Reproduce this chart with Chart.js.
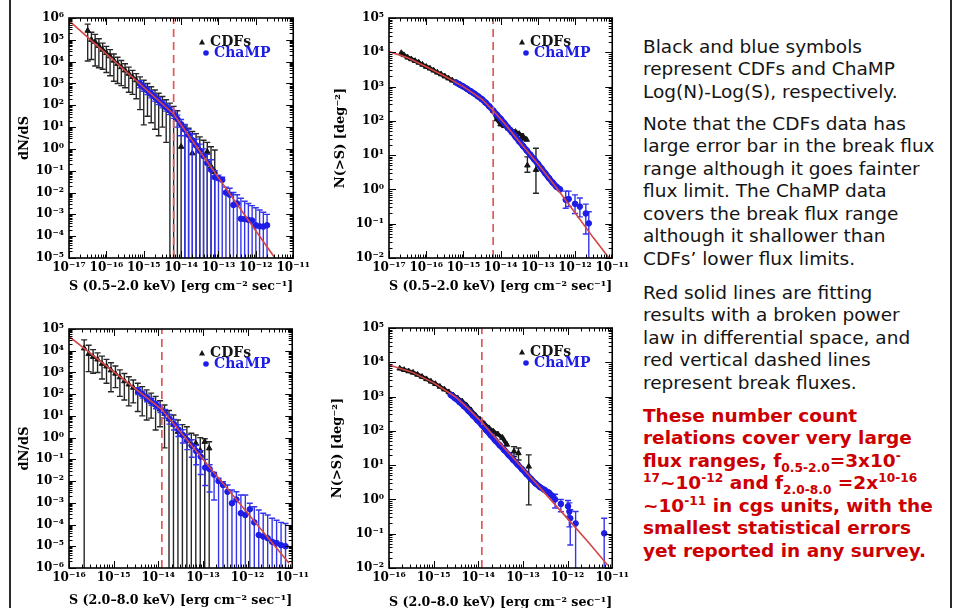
<!DOCTYPE html>
<html>
<head>
<meta charset="utf-8">
<script src="https://cdn.jsdelivr.net/npm/chart.js@4.4.1/dist/chart.umd.min.js"></script>
<style>
  body { margin: 0; width: 966px; height: 608px; overflow: hidden; position: relative; background: #fff; }
  .rule { position: absolute; top: 0; height: 608px; width: 2px; background: #2a2a2a; }
  canvas { position: absolute; }
  .note { position: absolute; left: 643px; font-family: "DejaVu Sans", sans-serif; font-size: 18.5px; line-height: 22.5px; color: #141414; white-space: nowrap; }
  .note.red { color: #cc0000; font-weight: bold; }
  .note sup, .note sub { font-size: 0.66em; line-height: 0; }
</style>
</head>
<body>
<div class="rule" style="left:9px"></div>
<div class="rule" style="left:950px"></div>

<canvas id="softDiff" width="301" height="300" style="left:12px;top:0px"></canvas>
<canvas id="softCum" width="303" height="300" style="left:329px;top:0px"></canvas>
<canvas id="hardDiff" width="300" height="299" style="left:12px;top:311px"></canvas>
<canvas id="hardCum" width="303" height="300" style="left:329px;top:310px"></canvas>

<div class="note" style="top:35.75px">Black and blue symbols<br>represent CDFs and ChaMP<br>Log(N)-Log(S), respectively.</div>
<div class="note" style="top:112.75px">Note that the CDFs data has<br>large error bar in the break flux<br>range although it goes fainter<br>flux limit. The ChaMP data<br>covers the break flux range<br>although it shallower than<br>CDFs’ lower flux limits.</div>
<div class="note" style="top:281.75px">Red solid lines are fitting<br>results with a broken power<br>law in differential space, and<br>red vertical dashed lines<br>represent break fluxes.</div>
<div class="note red" style="top:404.75px">These number count<br>relations cover very large<br>flux ranges, f<sub>0.5-2.0</sub>=3x10<sup>-</sup><br><sup>17</sup>~10<sup>-12</sup> and f<sub>2.0-8.0</sub> =2x<sup>10-16</sup><br>~10<sup>-11</sup> in cgs units, with the<br>smallest statistical errors<br>yet reported in any survey.</div>

<script>
"use strict"

// all values below are log10 of the numbers

// tick decades
const softXTicks = [-17, -16, -15, -14, -13, -12, -11];
const hardXTicks = [-16, -15, -14, -13, -12, -11];
const softDiffYTicks = [-5, -4, -3, -2, -1, 0, 1, 2, 3, 4, 5, 6];
const hardDiffYTicks = [-6, -5, -4, -3, -2, -1, 0, 1, 2, 3, 4, 5];
const cumYTicks = [-2, -1, 0, 1, 2, 3, 4, 5];

// ---- 0.5-2.0 keV, dN/dS ----
const softDiffFitS = [-17, -14.2, -11.49];
const softDiffFitN = [5.88, 1.6, -5.0];
const softDiffBreak = -14.2;

const softDiffCdfsS = [-16.5, -16.4, -16.3, -16.2, -16.1, -16.0, -15.9, -15.8, -15.7, -15.6, -15.5, -15.4, -15.3, -15.2, -15.1, -15.0, -14.9, -14.8, -14.7, -14.6, -14.5, -14.4, -14.3, -14.2, -14.1, -14.0, -13.9, -13.8, -13.7, -13.6, -13.5, -13.4, -13.3, -13.2, -13.1];
const softDiffCdfsN = [5.42, 5.0, 4.9, 4.72, 4.55, 4.4, 4.25, 4.05, 3.9, 3.75, 3.6, 3.45, 3.3, 3.15, 3.0, 2.85, 2.7, 2.5, 2.4, 2.2, 2.05, 1.9, 1.75, 1.6, 1.4, 0.1, 0.9, 0.65, -0.2, 0.2, -0.05, -0.3, -0.13, -0.8, -1.05];
const softDiffCdfsHi = [5.72, 5.35, 5.25, 5.05, 4.85, 4.7, 4.55, 4.35, 4.2, 4.05, 3.9, 3.75, 3.6, 3.45, 3.3, 3.15, 3.0, 2.85, 2.7, 2.55, 2.4, 2.25, 2.1, 1.95, 1.75, 1.17, 1.05, 0.95, 0.8, 0.7, 0.55, 0.4, 0.3, 0.1, -0.05];
const softDiffCdfsLo = [4.03, 4.1, 3.8, 3.72, 3.65, 3.5, 3.35, 3.1, 3.0, 2.9, 2.8, 2.6, 2.5, 2.3, 1.8, 1.1, 1.5, 1.2, 0.9, 0.6, 1.0, 0.3, -9, -9, -9, -9, -9, -9, -9, -9, -9, -9, -9, -9, -9];

const softDiffChampS = [-15.1, -15.0, -14.9, -14.8, -14.7, -14.6, -14.5, -14.4, -14.3, -14.2, -14.1, -14.0, -13.9, -13.8, -13.7, -13.6, -13.5, -13.4, -13.3, -13.2, -13.1, -13.0, -12.9, -12.8, -12.7, -12.6, -12.5, -12.4, -12.3, -12.2, -12.1, -12.0, -11.9, -11.8, -11.7];
const softDiffChampN = [2.98, 2.82, 2.67, 2.52, 2.37, 2.21, 2.06, 1.91, 1.75, 1.6, 1.37, 1.13, 0.89, 0.64, 0.4, 0.16, -0.09, -0.33, -0.65, -0.95, -1.3, -1.35, -1.42, -2.0, -2.1, -2.57, -2.5, -3.2, -3.22, -3.25, -3.28, -3.5, -3.55, -3.56, -3.5];
const softDiffChampHi = [3.13, 2.97, 2.82, 2.67, 2.52, 2.36, 2.21, 2.06, 1.9, 1.76, 1.55, 1.35, 1.12, 0.9, 0.68, 0.45, 0.22, 0.0, -0.25, -0.5, -1.0, -1.2, -1.3, -1.75, -1.8, -2.0, -2.1, -2.26, -2.4, -2.5, -2.6, -2.7, -2.8, -2.9, -3.0];
const softDiffChampLo = [2.8, 2.64, 2.49, 2.34, 2.19, 2.03, 1.88, 1.73, 1.57, 1.4, 1.0, 0.6, -9, -9, -9, -9, -9, -9, -9, -9, -9, -9, -9, -9, -9, -9, -9, -9, -9, -9, -9, -9, -9, -9, -9];

// ---- 0.5-2.0 keV, N(>S) ----
const softCumFitS = [-17, -16.5, -16, -15.5, -15, -14.5, -14.2, -13.9, -13.5, -13, -12.5, -12, -11.5, -11.05];
const softCumFitN = [4.02, 3.84, 3.58, 3.3, 3.0, 2.63, 2.3, 1.93, 1.4, 0.75, 0.05, -0.68, -1.42, -2.05];
const softCumBreak = -14.2;

const softCumCdfsS = [-16.67, -16.6, -16.5, -16.4, -16.3, -16.2, -16.1, -16.0, -15.9, -15.8, -15.7, -15.6, -15.5, -15.4, -15.3, -15.2, -15.1, -15.0, -14.9, -14.8, -14.7, -14.6, -14.5, -14.4, -14.3, -14.2, -14.1, -14.0, -13.9, -13.8, -13.7, -13.6, -13.5, -13.4, -13.3];
const softCumCdfsN = [3.98, 3.92, 3.85, 3.8, 3.75, 3.7, 3.64, 3.58, 3.53, 3.47, 3.41, 3.36, 3.3, 3.24, 3.18, 3.12, 3.06, 3.0, 2.93, 2.86, 2.79, 2.71, 2.63, 2.53, 2.42, 2.3, 2.05, 1.9, 1.85, 1.78, 1.72, 1.68, 1.62, 1.55, 1.45];
const softCumCdfsBarS = [-13.45, -13.28, -13.05];
const softCumCdfsBarN = [1.48, 0.7, 0.57];
const softCumCdfsBarHi = [1.62, 0.95, 1.2];
const softCumCdfsBarLo = [1.33, 0.5, -0.11];

const softCumChampS = [-15.2, -15.1, -15.0, -14.9, -14.8, -14.7, -14.6, -14.5, -14.4, -14.3, -14.2, -14.1, -14.0, -13.9, -13.8, -13.7, -13.6, -13.5, -13.4, -13.3, -13.2, -13.1, -13.0, -12.9, -12.8, -12.7, -12.6, -12.5, -12.4];
const softCumChampN = [3.12, 3.06, 3.0, 2.93, 2.86, 2.79, 2.71, 2.63, 2.53, 2.42, 2.3, 2.18, 2.06, 1.93, 1.8, 1.67, 1.54, 1.4, 1.27, 1.14, 1.01, 0.88, 0.75, 0.61, 0.47, 0.33, 0.2, 0.08, 0.0];
const softCumChampBarS = [-12.25, -12.17, -12.0, -11.87, -11.71, -11.63];
const softCumChampBarN = [-0.3, -0.28, -0.42, -0.5, -0.7, -0.99];
const softCumChampBarHi = [-0.05, -0.05, -0.16, -0.25, -0.43, -0.65];
const softCumChampBarLo = [-0.55, -0.5, -0.7, -0.8, -1.3, -9];

// ---- 2.0-8.0 keV, dN/dS ----
const hardDiffFitS = [-16, -13.92, -11.07];
const hardDiffFitN = [4.66, 1.29, -5.78];
const hardDiffBreak = -13.92;

const hardDiffCdfsS = [-15.66, -15.56, -15.46, -15.36, -15.26, -15.16, -15.06, -14.96, -14.86, -14.76, -14.66, -14.56, -14.46, -14.36, -14.26, -14.16, -14.06, -13.96, -13.86, -13.76, -13.66, -13.56, -13.46, -13.36, -13.26, -13.16, -13.06, -12.96, -12.86];
const hardDiffCdfsN = [4.11, 3.85, 3.72, 3.6, 3.4, 3.28, 3.1, 2.95, 2.78, 2.6, 2.45, 2.3, 2.12, 1.98, 1.8, 1.65, 1.5, 1.3, 1.1, 0.85, 0.6, 0.27, 0.15, -0.1, -0.3, -0.26, -0.6, -0.19, -0.49];
const hardDiffCdfsHi = [4.5, 4.25, 4.05, 3.9, 3.75, 3.6, 3.45, 3.3, 3.12, 2.95, 2.8, 2.65, 2.5, 2.35, 2.2, 2.05, 1.9, 1.7, 1.5, 1.25, 1.04, 0.81, 0.6, 0.5, 0.2, 0.12, 0.0, -0.05, -0.19];
const hardDiffCdfsLo = [-9, 3.04, 2.96, 3.0, 2.7, 2.5, 2.11, 2.3, 1.9, 1.73, 1.46, 1.6, 1.2, 1.0, 0.81, 0.9, 0.35, 0.5, -0.47, -9, -9, -9, -9, -9, -9, -9, -9, -9, -9];

const hardDiffChampS = [-14.45, -14.35, -14.25, -14.15, -14.05, -13.95, -13.85, -13.75, -13.65, -13.55, -13.45, -13.35, -13.25, -13.15, -13.05, -12.95, -12.85, -12.75, -12.65, -12.55, -12.45, -12.35, -12.25, -12.15, -12.05, -11.95, -11.85, -11.75, -11.65, -11.55, -11.45, -11.35, -11.25, -11.15];
const hardDiffChampN = [2.15, 1.99, 1.82, 1.66, 1.5, 1.34, 1.12, 0.87, 0.62, 0.37, 0.12, -0.12, -0.37, -0.62, -0.87, -1.38, -1.45, -1.7, -2.0, -2.18, -2.49, -3.02, -2.85, -3.48, -3.56, -3.3, -3.9, -4.48, -4.55, -4.63, -4.79, -4.85, -4.95, -5.0];
const hardDiffChampHi = [2.3, 2.14, 1.97, 1.81, 1.65, 1.5, 1.3, 1.07, 0.84, 0.6, 0.37, 0.14, -0.1, -0.35, -0.6, -1.0, -1.25, -1.6, -1.87, -2.03, -2.18, -2.41, -2.49, -2.64, -2.64, -3.02, -3.18, -3.33, -3.48, -3.56, -3.71, -3.8, -3.9, -3.95];
const hardDiffChampLo = [1.98, 1.82, 1.65, 1.49, 1.33, 1.15, 0.9, 0.62, 0.35, 0.05, -0.25, -0.55, -0.9, -1.25, -1.7, -2.2, -2.5, -2.87, -9, -9, -9, -9, -9, -9, -9, -9, -9, -9, -9, -9, -9, -9, -9, -9];

// ---- 2.0-8.0 keV, N(>S) ----
const hardCumFitS = [-16, -15.5, -15, -14.5, -14.2, -13.9, -13.5, -13, -12.5, -12, -11.5, -11.1];
const hardCumFitN = [3.92, 3.72, 3.4, 2.98, 2.62, 2.22, 1.62, 0.9, 0.17, -0.56, -1.3, -1.92];
const hardCumBreak = -13.92;

const hardCumCdfsS = [-15.76, -15.66, -15.56, -15.46, -15.36, -15.26, -15.16, -15.06, -14.96, -14.86, -14.76, -14.66, -14.56, -14.46, -14.36, -14.26, -14.16, -14.06, -13.96, -13.86, -13.76, -13.66, -13.56, -13.46, -13.36];
const hardCumCdfsN = [3.82, 3.78, 3.74, 3.7, 3.64, 3.58, 3.51, 3.44, 3.37, 3.29, 3.21, 3.13, 3.04, 2.95, 2.86, 2.74, 2.6, 2.45, 2.33, 2.2, 2.08, 1.98, 1.9, 1.8, 1.6];
const hardCumCdfsBarS = [-13.2, -13.1, -12.87];
const hardCumCdfsBarN = [1.4, 1.35, 0.96];
const hardCumCdfsBarHi = [1.54, 1.5, 1.3];
const hardCumCdfsBarLo = [1.25, 1.15, -0.16];

const hardCumChampS = [-14.62, -14.52, -14.42, -14.32, -14.22, -14.12, -14.02, -13.92, -13.82, -13.72, -13.62, -13.52, -13.42, -13.32, -13.22, -13.12, -13.02, -12.92, -12.82, -12.72, -12.62, -12.52, -12.42, -12.32];
const hardCumChampN = [3.05, 2.95, 2.84, 2.72, 2.59, 2.45, 2.31, 2.17, 2.02, 1.87, 1.72, 1.58, 1.44, 1.3, 1.16, 1.02, 0.88, 0.74, 0.6, 0.47, 0.36, 0.28, 0.2, 0.08];
const hardCumChampBarS = [-12.28, -12.15, -11.99, -11.96, -11.94, -11.82, -11.18];
const hardCumChampBarN = [0.0, -0.13, -0.2, -0.35, -0.55, -0.7, -0.99];
const hardCumChampBarHi = [0.15, 0.0, -0.03, -0.1, -0.3, -0.35, -0.55];
const hardCumChampBarLo = [-0.25, -0.36, -0.5, -0.8, -1.33, -9, -9];

const BLACK = '#141414';
const BLACK_BAR = '#262626';
const BLUE = '#1d1de6';
const BLUE_BAR = '#3434ee';
const RED = '#d64545';
const DASH = '#e05858';

const SUP = {'-': '⁻', '0': '⁰', '1': '¹', '2': '²', '3': '³', '4': '⁴', '5': '⁵', '6': '⁶', '7': '⁷', '8': '⁸', '9': '⁹'};

function decadeLabel(e) {
  return '10' + String(e).split('').map(c => SUP[c]).join('');
}

function toPoints(sArr, nArr) {
  return sArr.map((s, i) => ({x: 10 ** s, y: 10 ** nArr[i]}));
}

function toValues(arr) {
  return arr.map(v => 10 ** v);
}

function fitLine(s, n) {
  return {data: toPoints(s, n), showLine: true, borderColor: RED, borderWidth: 1.6,
    pointRadius: 0, order: 0};
}

function breakLine(b, yTicks) {
  return {data: [{x: 10 ** b, y: 10 ** yTicks[0]}, {x: 10 ** b, y: 10 ** yTicks[yTicks.length - 1]}],
    showLine: true, borderColor: DASH, borderWidth: 1.7, borderDash: [8, 5], pointRadius: 0, order: 1};
}

function cdfs(s, n, hi, lo, legend) {
  return {label: 'CDFs', inLegend: legend, data: toPoints(s, n), pointStyle: 'triangle', pointRadius: 3.2,
    backgroundColor: BLACK, borderColor: BLACK, pointBorderWidth: 1, order: 3,
    errHi: hi ? toValues(hi) : null, errLo: lo ? toValues(lo) : null, errColor: BLACK_BAR};
}

function champ(s, n, hi, lo, legend) {
  return {label: 'ChaMP', inLegend: legend, data: toPoints(s, n), pointStyle: 'circle', pointRadius: 2.8,
    backgroundColor: BLUE, borderColor: BLUE, pointBorderWidth: 1, order: 2,
    errHi: hi ? toValues(hi) : null, errLo: lo ? toValues(lo) : null, errColor: BLUE_BAR};
}

function band(ds, width) {
  ds.showLine = true;
  ds.borderWidth = width;
  return ds;
}

// vertical error bars, drawn just under each dataset's symbols
const errorBars = {
  id: 'errorBars',
  beforeDatasetDraw(chart, args) {
    const ds = chart.data.datasets[args.index];
    if (!ds.errHi) return;
    const {ctx, chartArea: a, scales: {x, y}} = chart;
    ctx.save();
    ctx.beginPath();
    ctx.rect(a.left, a.top, a.right - a.left, a.bottom - a.top);
    ctx.clip();
    ctx.strokeStyle = ds.errColor;
    ctx.lineWidth = 1.4;
    ds.data.forEach((p, i) => {
      const px = x.getPixelForValue(p.x);
      const yh = y.getPixelForValue(ds.errHi[i]);
      const yl = Math.min(y.getPixelForValue(ds.errLo[i]), a.bottom + 4);
      ctx.beginPath();
      ctx.moveTo(px, yh);
      ctx.lineTo(px, yl);
      ctx.moveTo(px - 3, yh);
      ctx.lineTo(px + 3, yh);
      if (yl < a.bottom) {
        ctx.moveTo(px - 3, yl);
        ctx.lineTo(px + 3, yl);
      }
      ctx.stroke();
    });
    ctx.restore();
  }
};

// box frame with inward major/minor log ticks on all four sides
const frameTicks = {
  id: 'frameTicks',
  afterDatasetsDraw(chart) {
    const {ctx, chartArea: a, scales: {x, y}} = chart;
    ctx.save();
    ctx.strokeStyle = '#000';
    ctx.lineWidth = 1;
    [[x, true], [y, false]].forEach(([sc, horiz]) => {
      const lo = Math.floor(Math.log10(sc.min));
      const hi = Math.round(Math.log10(sc.max));
      for (let e = lo; e <= hi; e++) {
        for (let m = 1; m < 10; m++) {
          const v = m * 10 ** e;
          if (v < sc.min * 0.999 || v > sc.max * 1.001) continue;
          const p = Math.round(sc.getPixelForValue(v)) + 0.5;
          const len = m === 1 ? 7 : 3.5;
          ctx.beginPath();
          if (horiz) {
            ctx.moveTo(p, a.bottom); ctx.lineTo(p, a.bottom - len);
            ctx.moveTo(p, a.top); ctx.lineTo(p, a.top + len);
          } else {
            ctx.moveTo(a.left, p); ctx.lineTo(a.left + len, p);
            ctx.moveTo(a.right, p); ctx.lineTo(a.right - len, p);
          }
          ctx.stroke();
        }
      }
    });
    ctx.lineWidth = 1.6;
    ctx.strokeRect(a.left, a.top, a.right - a.left, a.bottom - a.top);
    ctx.restore();
  }
};

// small legend inside the top-right corner of the frame
const insetLegend = {
  id: 'insetLegend',
  afterDraw(chart) {
    const {ctx, chartArea: a} = chart;
    const items = chart.data.datasets.filter(d => d.inLegend);
    const spots = [{mx: 133, tx: 141, y: 24}, {mx: 137, tx: 145, y: 35}];
    ctx.save();
    ctx.font = 'bold 14px "DejaVu Serif"';
    ctx.textBaseline = 'middle';
    items.forEach((d, i) => {
      const s = spots[i];
      const mx = a.left + s.mx, my = a.top + s.y;
      ctx.fillStyle = d.backgroundColor;
      ctx.beginPath();
      if (d.pointStyle === 'triangle') {
        ctx.moveTo(mx, my - 3); ctx.lineTo(mx + 3, my + 2.5); ctx.lineTo(mx - 3, my + 2.5); ctx.closePath();
      } else {
        ctx.arc(mx, my, 2.8, 0, Math.PI * 2);
      }
      ctx.fill();
      ctx.fillText(d.label, a.left + s.tx, my);
    });
    ctx.restore();
  }
};

const tickFont = {family: 'DejaVu Serif', size: 12, weight: 'bold'};
const titleFont = {family: 'DejaVu Serif', size: 13, weight: 'bold'};

function makePanel(id, p) {
  const ctx = document.getElementById(id).getContext('2d');
  return new Chart(ctx, {
    type: 'scatter',
    data: {datasets: p.datasets},
    options: {
      responsive: false,
      animation: false,
      events: [],
      layout: {padding: {top: 18, right: 10, left: 0, bottom: 0}},
      plugins: {legend: {display: false}, tooltip: {enabled: false}},
      scales: {
        x: {
          type: 'logarithmic',
          min: 10 ** p.xTicks[0],
          max: 10 ** p.xTicks[p.xTicks.length - 1],
          afterBuildTicks: s => { s.ticks = p.xTicks.map(e => ({value: 10 ** e})); },
          afterFit: s => { s.height = 42; },
          grid: {display: false, drawTicks: false},
          border: {display: false},
          ticks: {autoSkip: false, maxRotation: 0, padding: 3, color: '#000', font: tickFont,
            callback: v => decadeLabel(Math.round(Math.log10(v)))},
          title: {display: true, text: p.xTitle, color: '#000', font: titleFont,
            padding: {top: 0, bottom: p.xTitlePad}}
        },
        y: {
          type: 'logarithmic',
          min: 10 ** p.yTicks[0],
          max: 10 ** p.yTicks[p.yTicks.length - 1],
          afterBuildTicks: s => { s.ticks = p.yTicks.map(e => ({value: 10 ** e})); },
          afterFit: s => { s.width = p.yAxisWidth; },
          grid: {display: false, drawTicks: false},
          border: {display: false},
          ticks: {autoSkip: false, padding: 5, color: '#000', font: tickFont,
            callback: v => decadeLabel(Math.round(Math.log10(v)))},
          title: {display: true, text: p.yTitle, color: '#000', font: titleFont,
            padding: {top: p.yTitlePad, bottom: 0}}
        }
      }
    },
    plugins: [errorBars, frameTicks, insetLegend]
  });
}

const softTitle = 'S (0.5–2.0 keV) [erg cm⁻² sec⁻¹]';
const hardTitle = 'S (2.0–8.0 keV) [erg cm⁻² sec⁻¹]';

makePanel('softDiff', {
  xTicks: softXTicks, yTicks: softDiffYTicks, xTitle: softTitle, yTitle: 'dN/dS',
  yAxisWidth: 57, xTitlePad: 6, yTitlePad: 5,
  datasets: [
    fitLine(softDiffFitS, softDiffFitN),
    breakLine(softDiffBreak, softDiffYTicks),
    cdfs(softDiffCdfsS, softDiffCdfsN, softDiffCdfsHi, softDiffCdfsLo, true),
    champ(softDiffChampS, softDiffChampN, softDiffChampHi, softDiffChampLo, true)
  ]
});

makePanel('softCum', {
  xTicks: softXTicks, yTicks: cumYTicks, xTitle: softTitle, yTitle: 'N(>S) [deg⁻²]',
  yAxisWidth: 60, xTitlePad: 6, yTitlePad: 4,
  datasets: [
    fitLine(softCumFitS, softCumFitN),
    breakLine(softCumBreak, cumYTicks),
    band(cdfs(softCumCdfsS, softCumCdfsN, null, null, true), 4),
    cdfs(softCumCdfsBarS, softCumCdfsBarN, softCumCdfsBarHi, softCumCdfsBarLo, false),
    band(champ(softCumChampS, softCumChampN, null, null, true), 6),
    champ(softCumChampBarS, softCumChampBarN, softCumChampBarHi, softCumChampBarLo, false)
  ]
});

makePanel('hardDiff', {
  xTicks: hardXTicks, yTicks: hardDiffYTicks, xTitle: hardTitle, yTitle: 'dN/dS',
  yAxisWidth: 57, xTitlePad: 2, yTitlePad: 5,
  datasets: [
    fitLine(hardDiffFitS, hardDiffFitN),
    breakLine(hardDiffBreak, hardDiffYTicks),
    cdfs(hardDiffCdfsS, hardDiffCdfsN, hardDiffCdfsHi, hardDiffCdfsLo, true),
    champ(hardDiffChampS, hardDiffChampN, hardDiffChampHi, hardDiffChampLo, true)
  ]
});

makePanel('hardCum', {
  xTicks: hardXTicks, yTicks: cumYTicks, xTitle: hardTitle, yTitle: 'N(>S) [deg⁻²]',
  yAxisWidth: 60, xTitlePad: 0, yTitlePad: 1,
  datasets: [
    fitLine(hardCumFitS, hardCumFitN),
    breakLine(hardCumBreak, cumYTicks),
    band(cdfs(hardCumCdfsS, hardCumCdfsN, null, null, true), 4),
    cdfs(hardCumCdfsBarS, hardCumCdfsBarN, hardCumCdfsBarHi, hardCumCdfsBarLo, false),
    band(champ(hardCumChampS, hardCumChampN, null, null, true), 6),
    champ(hardCumChampBarS, hardCumChampBarN, hardCumChampBarHi, hardCumChampBarLo, false)
  ]
});
</script>
</body>
</html>
